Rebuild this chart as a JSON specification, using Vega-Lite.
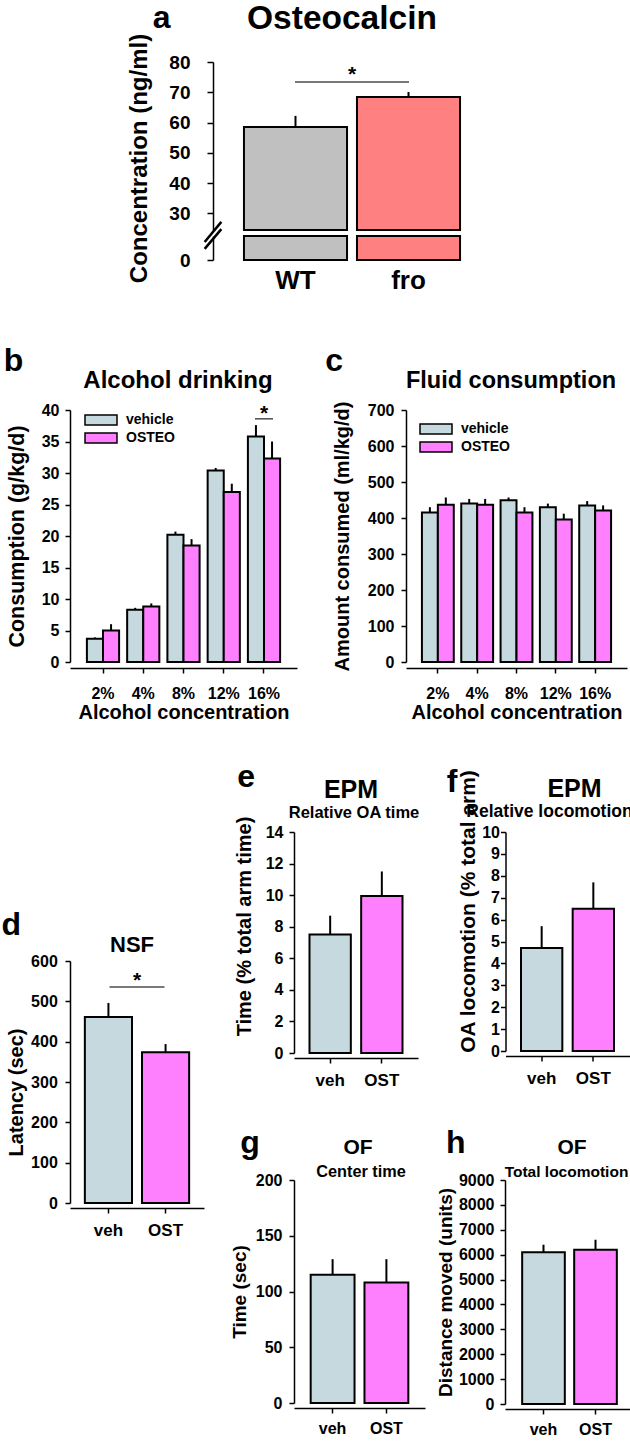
{
 "$schema": "https://vega.github.io/schema/vega-lite/v6.json",
 "background": "white",
 "padding": {"left": 1, "top": 2, "right": 0, "bottom": 0},
 "config": {
  "font": "Liberation Sans",
  "view": {"stroke": null},
  "axis": {"labelFont": "Liberation Sans", "titleFont": "Liberation Sans", "labelFontWeight": "bold", "titleFontWeight": "bold", "labelColor": "black", "titleColor": "black", "domainColor": "black", "tickColor": "black", "domainWidth": 1.5, "tickWidth": 1.5, "tickSize": 5, "grid": false, "labelFontSize": 16, "titleFontSize": 20, "labelOverlap": false},
  "axisX": {"labelAngle": 0},
  "title": {"font": "Liberation Sans", "fontWeight": "bold", "fontSize": 32, "color": "black", "anchor": "start", "frame": "bounds"},
  "text": {"font": "Liberation Sans", "fontWeight": "bold", "color": "black"},
  "legend": {"labelFont": "Liberation Sans", "labelFontWeight": "bold", "labelColor": "black", "labelFontSize": 14}
 },
 "datasets": {
  "osteo": [
   {"genotype": "WT", "value": 58.5, "upper": 62.2},
   {"genotype": "fro", "value": 68.4, "upper": 70.1}
  ],
  "alcohol": [
   {"conc": "2%", "group": "vehicle", "value": 3.7, "upper": 3.9},
   {"conc": "2%", "group": "OSTEO", "value": 5.0, "upper": 6.0},
   {"conc": "4%", "group": "vehicle", "value": 8.3, "upper": 8.6},
   {"conc": "4%", "group": "OSTEO", "value": 8.8, "upper": 9.3},
   {"conc": "8%", "group": "vehicle", "value": 20.2, "upper": 20.7},
   {"conc": "8%", "group": "OSTEO", "value": 18.5, "upper": 19.5},
   {"conc": "12%", "group": "vehicle", "value": 30.4, "upper": 30.8},
   {"conc": "12%", "group": "OSTEO", "value": 27.0, "upper": 28.3},
   {"conc": "16%", "group": "vehicle", "value": 35.8, "upper": 37.6},
   {"conc": "16%", "group": "OSTEO", "value": 32.3, "upper": 35.0}
  ],
  "fluid": [
   {"conc": "2%", "group": "vehicle", "value": 415, "upper": 430},
   {"conc": "2%", "group": "OSTEO", "value": 437, "upper": 457},
   {"conc": "4%", "group": "vehicle", "value": 440, "upper": 453},
   {"conc": "4%", "group": "OSTEO", "value": 437, "upper": 453},
   {"conc": "8%", "group": "vehicle", "value": 449, "upper": 457},
   {"conc": "8%", "group": "OSTEO", "value": 415, "upper": 430},
   {"conc": "12%", "group": "vehicle", "value": 430, "upper": 440},
   {"conc": "12%", "group": "OSTEO", "value": 396, "upper": 412},
   {"conc": "16%", "group": "vehicle", "value": 435, "upper": 447},
   {"conc": "16%", "group": "OSTEO", "value": 421, "upper": 435}
  ],
  "nsf": [
   {"group": "veh", "value": 461, "upper": 496},
   {"group": "OST", "value": 374, "upper": 394}
  ],
  "epm_time": [
   {"group": "veh", "value": 7.5, "upper": 8.7},
   {"group": "OST", "value": 9.95, "upper": 11.5}
  ],
  "epm_loco": [
   {"group": "veh", "value": 4.7, "upper": 5.7},
   {"group": "OST", "value": 6.5, "upper": 7.7}
  ],
  "of_time": [
   {"group": "veh", "value": 115, "upper": 129},
   {"group": "OST", "value": 108, "upper": 129}
  ],
  "of_loco": [
   {"group": "veh", "value": 6100, "upper": 6400},
   {"group": "OST", "value": 6200, "upper": 6600}
  ]
 },
 "spacing": 51,
 "resolve": {"scale": {"color": "independent", "xOffset": "independent"}, "legend": {"color": "independent"}},
 "vconcat": [
  {
   "spacing": 20,
   "resolve": {"scale": {"color": "independent"}, "legend": {"color": "independent"}},
   "hconcat": [
    {"width": 37, "height": 10, "data": {"values": [{}]}, "mark": {"type": "point", "opacity": 0}},
    {
     "spacing": 6,
     "bounds": "flush",
     "vconcat": [
      {
       "width": 278, "height": 168,
       "title": {"text": "a", "offset": -33, "dx": 25},
       "data": {"name": "osteo"},
       "layer": [
        {"mark": {"type": "bar", "stroke": "black", "strokeWidth": 2},
         "encoding": {
          "x": {"field": "genotype", "type": "nominal", "scale": {"domain": ["WT", "fro"], "paddingInner": 0.088, "paddingOuter": 0.274}, "axis": null},
          "y": {"field": "value", "type": "quantitative", "scale": {"domain": [24.5, 80], "nice": false, "zero": false}, "axis": {"values": [30, 40, 50, 60, 70, 80], "tickCount": 50, "format": "d", "labelOverlap": false, "title": "Concentration (ng/ml)", "titleFontSize": 24, "labelFontSize": 19, "tickSize": 6, "labelPadding": 17, "titlePadding": 17, "titleY": 96}},
          "y2": {"datum": 24.5},
          "color": {"field": "genotype", "type": "nominal", "scale": {"domain": ["WT", "fro"], "range": ["#c0c0c0", "#ff8080"]}, "legend": null}
         }},
        {"mark": {"type": "rule", "color": "black", "strokeWidth": 2},
         "encoding": {"x": {"field": "genotype", "type": "nominal"}, "y": {"field": "value", "type": "quantitative"}, "y2": {"field": "upper"}}},
        {"data": {"values": [{}]}, "mark": {"type": "tick", "orient": "horizontal", "size": 114, "thickness": 1.5, "color": "black"}, "encoding": {"y": {"datum": 73.4}}},
        {"data": {"values": [{}]}, "mark": {"type": "text", "text": "*", "fontSize": 21}, "encoding": {"y": {"datum": 75.7}}},
        {"data": {"values": [{}]}, "mark": {"type": "text", "text": "Osteocalcin", "fontSize": 33.5, "dx": -10}, "encoding": {"y": {"datum": 94.2}}}
       ]
      },
      {
       "width": 278, "height": 24,
       "data": {"name": "osteo"},
       "layer": [
        {"mark": {"type": "bar", "stroke": "black", "strokeWidth": 2},
         "encoding": {
          "x": {"field": "genotype", "type": "nominal", "scale": {"domain": ["WT", "fro"], "paddingInner": 0.088, "paddingOuter": 0.274}, "axis": {"title": null, "labelFontSize": 26, "domain": false, "ticks": false, "tickSize": 0, "labelPadding": 7}},
          "y": {"datum": 8, "type": "quantitative", "scale": {"domain": [0, 8], "nice": false}, "axis": {"values": [0], "tickCount": 50, "format": "d", "title": null, "labelFontSize": 19, "tickSize": 6, "labelPadding": 17}},
          "color": {"field": "genotype", "type": "nominal", "scale": {"domain": ["WT", "fro"], "range": ["#c0c0c0", "#ff8080"]}, "legend": null}
         }},
        {"data": {"values": [{}]}, "mark": {"type": "rule", "color": "black", "strokeWidth": 2.5},
         "encoding": {"x": {"datum": -0.03, "type": "quantitative", "scale": {"domain": [0, 1]}, "axis": null}, "x2": {"datum": 0.03}, "y": {"datum": 3.7}, "y2": {"datum": 10.3}}},
        {"data": {"values": [{}]}, "mark": {"type": "rule", "color": "black", "strokeWidth": 2.5},
         "encoding": {"x": {"datum": -0.03, "type": "quantitative", "scale": {"domain": [0, 1]}, "axis": null}, "x2": {"datum": 0.03}, "y": {"datum": 6.0}, "y2": {"datum": 12.7}}}
       ],
       "resolve": {"scale": {"x": "independent"}, "axis": {"x": "independent"}}
      }
     ]
    }
   ]
  },
  {
   "spacing": 39,
   "resolve": {"scale": {"color": "independent", "xOffset": "independent"}, "legend": {"color": "independent"}},
   "vconcat": [
    {
     "spacing": 28,
     "resolve": {"scale": {"color": "independent", "xOffset": "independent"}, "legend": {"color": "independent"}},
     "hconcat": [
      {
       "width": 227, "height": 252,
       "title": {"text": "b", "offset": -9, "dx": -3},
       "data": {"name": "alcohol"},
       "layer": [
        {"mark": {"type": "bar", "stroke": "black", "strokeWidth": 2},
         "encoding": {
          "x": {"field": "conc", "type": "nominal", "scale": {"domain": ["2%", "4%", "8%", "12%", "16%"], "paddingInner": 0.2, "paddingOuter": 0.42}, "axis": {"title": "Alcohol concentration", "titleFontSize": 20, "labelFontSize": 16, "offset": 6, "labelPadding": 12, "titlePadding": 1}},
          "xOffset": {"field": "group", "type": "nominal", "scale": {"domain": ["vehicle", "OSTEO"], "paddingInner": 0, "paddingOuter": 0}},
          "y": {"field": "value", "type": "quantitative", "scale": {"domain": [0, 40], "nice": false}, "axis": {"values": [0, 5, 10, 15, 20, 25, 30, 35, 40], "tickCount": 50, "format": "d", "labelOverlap": false, "title": "Consumption (g/kg/d)", "titleFontSize": 21.5, "labelPadding": 6, "titlePadding": 12.5}},
          "color": {"field": "group", "type": "nominal", "scale": {"domain": ["vehicle", "OSTEO"], "range": ["#c5d9de", "#ff80ff"]},
           "legend": {"title": null, "orient": "none", "legendX": 24, "legendY": 3, "direction": "vertical", "symbolType": "M-3.2,-1H3.2V1H-3.2Z", "symbolSize": 100, "symbolStrokeColor": "black", "symbolStrokeWidth": 1.5, "labelOffset": 18, "rowPadding": 2, "padding": 0, "labelFontSize": 14}}
         }},
        {"mark": {"type": "rule", "color": "black", "strokeWidth": 2},
         "encoding": {"x": {"field": "conc", "type": "nominal"}, "xOffset": {"field": "group", "type": "nominal"}, "y": {"field": "value", "type": "quantitative"}, "y2": {"field": "upper"}}},
        {"data": {"values": [{}]}, "mark": {"type": "tick", "orient": "horizontal", "size": 18, "thickness": 1.5, "color": "black"}, "encoding": {"x": {"datum": "16%"}, "y": {"datum": 38.6}}},
        {"data": {"values": [{}]}, "mark": {"type": "text", "text": "*", "fontSize": 21}, "encoding": {"x": {"datum": "16%"}, "y": {"datum": 39.3}}},
        {"data": {"values": [{}]}, "mark": {"type": "text", "text": "Alcohol drinking", "fontSize": 24, "dx": -5.5}, "encoding": {"y": {"datum": 44.6}}}
       ]
      },
      {
       "width": 221, "height": 252,
       "title": {"text": "c", "offset": -9, "dx": -7},
       "data": {"name": "fluid"},
       "layer": [
        {"mark": {"type": "bar", "stroke": "black", "strokeWidth": 2},
         "encoding": {
          "x": {"field": "conc", "type": "nominal", "scale": {"domain": ["2%", "4%", "8%", "12%", "16%"], "paddingInner": 0.19, "paddingOuter": 0.405}, "axis": {"title": "Alcohol concentration", "titleFontSize": 20, "labelFontSize": 16, "offset": 6, "labelPadding": 12, "titlePadding": 1}},
          "xOffset": {"field": "group", "type": "nominal", "scale": {"domain": ["vehicle", "OSTEO"], "paddingInner": 0, "paddingOuter": 0}},
          "y": {"field": "value", "type": "quantitative", "scale": {"domain": [0, 700], "nice": false}, "axis": {"values": [0, 100, 200, 300, 400, 500, 600, 700], "tickCount": 50, "format": "d", "labelOverlap": false, "title": "Amount consumed (ml/kg/d)", "labelPadding": 7, "titlePadding": 15}},
          "color": {"field": "group", "type": "nominal", "scale": {"domain": ["vehicle", "OSTEO"], "range": ["#c5d9de", "#ff80ff"]},
           "legend": {"title": null, "orient": "none", "legendX": 23, "legendY": 12, "direction": "vertical", "symbolType": "M-3.2,-1H3.2V1H-3.2Z", "symbolSize": 100, "symbolStrokeColor": "black", "symbolStrokeWidth": 1.5, "labelOffset": 18, "rowPadding": 2, "padding": 0, "labelFontSize": 14}}
         }},
        {"mark": {"type": "rule", "color": "black", "strokeWidth": 2},
         "encoding": {"x": {"field": "conc", "type": "nominal"}, "xOffset": {"field": "group", "type": "nominal"}, "y": {"field": "value", "type": "quantitative"}, "y2": {"field": "upper"}}},
        {"data": {"values": [{}]}, "mark": {"type": "text", "text": "Fluid consumption", "fontSize": 23.5, "dx": -5.5}, "encoding": {"y": {"datum": 780.6}}}
       ]
      }
     ]
    },
    {
     "spacing": 26,
     "resolve": {"scale": {"color": "independent"}, "legend": {"color": "independent"}},
     "hconcat": [
      {
       "spacing": 20,
       "resolve": {"scale": {"color": "independent"}, "legend": {"color": "independent"}},
       "vconcat": [
        {"width": 10, "height": 56, "data": {"values": [{}]}, "mark": {"type": "point", "opacity": 0}},
        {
         "width": 134, "height": 242,
         "title": {"text": "d", "offset": -8, "dx": -5},
         "data": {"name": "nsf"},
         "layer": [
          {"mark": {"type": "bar", "stroke": "black", "strokeWidth": 2},
           "encoding": {
            "x": {"field": "group", "type": "nominal", "scale": {"domain": ["veh", "OST"], "paddingInner": 0.175, "paddingOuter": 0.26}, "axis": {"title": null, "labelFontSize": 17, "offset": 5, "labelPadding": 9}},
            "y": {"field": "value", "type": "quantitative", "scale": {"domain": [0, 600], "nice": false}, "axis": {"values": [0, 100, 200, 300, 400, 500, 600], "tickCount": 50, "format": "d", "labelOverlap": false, "title": "Latency (sec)", "titleY": 131, "labelPadding": 7.7, "titlePadding": 4}},
            "color": {"field": "group", "type": "nominal", "scale": {"domain": ["veh", "OST"], "range": ["#c5d9de", "#ff80ff"]}, "legend": null}
           }},
          {"mark": {"type": "rule", "color": "black", "strokeWidth": 2},
           "encoding": {"x": {"field": "group", "type": "nominal"}, "y": {"field": "value", "type": "quantitative"}, "y2": {"field": "upper"}}},
          {"data": {"values": [{}]}, "mark": {"type": "tick", "orient": "horizontal", "size": 55, "thickness": 1.5, "color": "black"}, "encoding": {"y": {"datum": 535.6}}},
          {"data": {"values": [{}]}, "mark": {"type": "text", "text": "*", "fontSize": 21}, "encoding": {"y": {"datum": 551}}},
          {"data": {"values": [{}]}, "mark": {"type": "text", "text": "NSF", "fontSize": 22, "dx": -5}, "encoding": {"y": {"datum": 639.7}}}
         ]
        }
       ]
      },
      {
       "spacing": 38,
       "resolve": {"scale": {"color": "independent"}, "legend": {"color": "independent"}},
       "vconcat": [
        {
         "spacing": 26.5,
         "resolve": {"scale": {"color": "independent"}, "legend": {"color": "independent"}},
         "hconcat": [
          {
           "width": 124, "height": 221,
           "title": {"text": "e", "offset": -16, "dx": 3},
           "data": {"name": "epm_time"},
           "layer": [
            {"mark": {"type": "bar", "stroke": "black", "strokeWidth": 2},
             "encoding": {
              "x": {"field": "group", "type": "nominal", "scale": {"domain": ["veh", "OST"], "paddingInner": 0.2, "paddingOuter": 0.3}, "axis": {"title": null, "labelFontSize": 17, "offset": 5, "labelPadding": 9}},
              "y": {"field": "value", "type": "quantitative", "scale": {"domain": [0, 14], "nice": false}, "axis": {"values": [0, 2, 4, 6, 8, 10, 12, 14], "tickCount": 50, "format": "d", "labelOverlap": false, "title": "Time (% total arm time)", "titleY": 94, "labelPadding": 6, "titlePadding": 11}},
              "color": {"field": "group", "type": "nominal", "scale": {"domain": ["veh", "OST"], "range": ["#c5d9de", "#ff80ff"]}, "legend": null}
             }},
            {"mark": {"type": "rule", "color": "black", "strokeWidth": 2},
             "encoding": {"x": {"field": "group", "type": "nominal"}, "y": {"field": "value", "type": "quantitative"}, "y2": {"field": "upper"}}},
            {"data": {"values": [{}]}, "mark": {"type": "text", "text": "EPM", "fontSize": 25, "dx": -5}, "encoding": {"y": {"datum": 16.66}}},
            {"data": {"values": [{}]}, "mark": {"type": "text", "text": "Relative OA time", "fontSize": 16.5, "dx": -2}, "encoding": {"y": {"datum": 15.2}}}
           ]
          },
          {
           "width": 124, "height": 219,
           "title": {"text": "f", "offset": -30, "dx": -11},
           "data": {"name": "epm_loco"},
           "layer": [
            {"mark": {"type": "bar", "stroke": "black", "strokeWidth": 2},
             "encoding": {
              "x": {"field": "group", "type": "nominal", "scale": {"domain": ["veh", "OST"], "paddingInner": 0.2, "paddingOuter": 0.3}, "axis": {"title": null, "labelFontSize": 17, "offset": 5, "labelPadding": 9}},
              "y": {"field": "value", "type": "quantitative", "scale": {"domain": [0, 10], "nice": false}, "axis": {"values": [0, 1, 2, 3, 4, 5, 6, 7, 8, 9, 10], "tickCount": 50, "format": "d", "labelOverlap": false, "title": "OA locomotion (% total arm)", "titleFontSize": 21, "titleY": 79, "labelPadding": 1, "titlePadding": 3}},
              "color": {"field": "group", "type": "nominal", "scale": {"domain": ["veh", "OST"], "range": ["#c5d9de", "#ff80ff"]}, "legend": null}
             }},
            {"mark": {"type": "rule", "color": "black", "strokeWidth": 2},
             "encoding": {"x": {"field": "group", "type": "nominal"}, "y": {"field": "value", "type": "quantitative"}, "y2": {"field": "upper"}}},
            {"data": {"values": [{}]}, "mark": {"type": "text", "text": "EPM", "fontSize": 25, "dx": 7}, "encoding": {"y": {"datum": 11.97}}},
            {"data": {"values": [{}]}, "mark": {"type": "text", "text": "Relative locomotion", "fontSize": 17.5, "dx": -18}, "encoding": {"y": {"datum": 10.93}}}
           ]
          }
         ]
        },
        {
         "spacing": 11,
         "resolve": {"scale": {"color": "independent"}, "legend": {"color": "independent"}},
         "hconcat": [
          {
           "width": 131, "height": 223,
           "title": {"text": "g", "offset": -23, "dx": 10},
           "data": {"name": "of_time"},
           "layer": [
            {"mark": {"type": "bar", "stroke": "black", "strokeWidth": 2},
             "encoding": {
              "x": {"field": "group", "type": "nominal", "scale": {"domain": ["veh", "OST"], "paddingInner": 0.185, "paddingOuter": 0.31}, "axis": {"title": null, "labelFontSize": 16, "offset": 5, "labelPadding": 7}},
              "y": {"field": "value", "type": "quantitative", "scale": {"domain": [0, 200], "nice": false}, "axis": {"values": [0, 50, 100, 150, 200], "tickCount": 50, "format": "d", "labelOverlap": false, "title": "Time (sec)", "titleFontSize": 19, "labelPadding": 7, "titlePadding": 6}},
              "color": {"field": "group", "type": "nominal", "scale": {"domain": ["veh", "OST"], "range": ["#c5d9de", "#ff80ff"]}, "legend": null}
             }},
            {"mark": {"type": "rule", "color": "black", "strokeWidth": 2},
             "encoding": {"x": {"field": "group", "type": "nominal"}, "y": {"field": "value", "type": "quantitative"}, "y2": {"field": "upper"}}},
            {"data": {"values": [{}]}, "mark": {"type": "text", "text": "OF", "fontSize": 21, "dx": -1.5}, "encoding": {"y": {"datum": 228.7}}},
            {"data": {"values": [{}]}, "mark": {"type": "text", "text": "Center time", "fontSize": 16.3, "dx": 1.5}, "encoding": {"y": {"datum": 207.2}}}
           ]
          },
          {
           "width": 129, "height": 224,
           "title": {"text": "h", "offset": -23, "dx": 10},
           "data": {"name": "of_loco"},
           "layer": [
            {"mark": {"type": "bar", "stroke": "black", "strokeWidth": 2},
             "encoding": {
              "x": {"field": "group", "type": "nominal", "scale": {"domain": ["veh", "OST"], "paddingInner": 0.18, "paddingOuter": 0.33}, "axis": {"title": null, "labelFontSize": 16, "offset": 5, "labelPadding": 7}},
              "y": {"field": "value", "type": "quantitative", "scale": {"domain": [0, 9000], "nice": false}, "axis": {"values": [0, 1000, 2000, 3000, 4000, 5000, 6000, 7000, 8000, 9000], "tickCount": 50, "format": "d", "labelOverlap": false, "title": "Distance moved (units)", "titleFontSize": 19, "labelPadding": 6, "titlePadding": 3.4}},
              "color": {"field": "group", "type": "nominal", "scale": {"domain": ["veh", "OST"], "range": ["#c5d9de", "#ff80ff"]}, "legend": null}
             }},
            {"mark": {"type": "rule", "color": "black", "strokeWidth": 2},
             "encoding": {"x": {"field": "group", "type": "nominal"}, "y": {"field": "value", "type": "quantitative"}, "y2": {"field": "upper"}}},
            {"data": {"values": [{}]}, "mark": {"type": "text", "text": "OF", "fontSize": 21, "dx": 2.5}, "encoding": {"y": {"datum": 10286}}},
            {"data": {"values": [{}]}, "mark": {"type": "text", "text": "Total locomotion", "fontSize": 15.5, "dx": -3}, "encoding": {"y": {"datum": 9321}}}
           ]
          }
         ]
        }
       ]
      }
     ]
    }
   ]
  }
 ]
}
